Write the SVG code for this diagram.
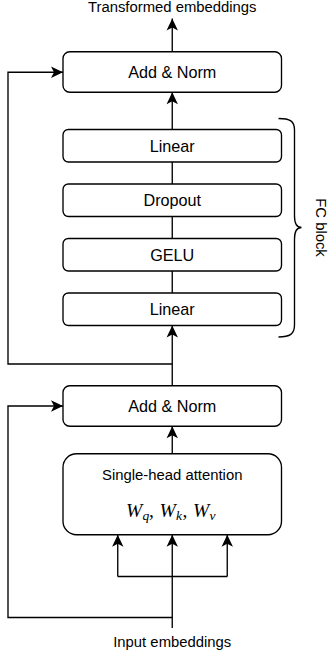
<svg xmlns="http://www.w3.org/2000/svg" width="329" height="655" viewBox="0 0 329 655">
  <style>
    .box { fill: #ffffff; stroke: #000000; stroke-width: 1.35; }
    .lbl { font-family: "Liberation Sans", Arial, Helvetica, sans-serif; font-size: 16.2px; fill: #000000; text-anchor: middle; }
    .cap { font-family: "Liberation Sans", Arial, Helvetica, sans-serif; font-size: 14.85px; fill: #000000; text-anchor: middle; }
    .math { font-family: "Liberation Serif", "Times New Roman", serif; font-size: 19.5px; font-style: italic; fill: #000000; }
    .sub { font-size: 13.5px; }
    .up { font-style: normal; }
    .wire { fill: none; stroke: #000000; stroke-width: 1.35; }
    .arr { marker-end: url(#head); }
  </style>
  <defs>
    <marker id="head" markerUnits="userSpaceOnUse" viewBox="-13 -7 14 14" markerWidth="14" markerHeight="14" refX="0" refY="0" orient="auto">
      <path d="M0,0 L-12,-5.7 L-9,0 L-12,5.7 Z" fill="#000000"/>
    </marker>
  </defs>

  <!-- outer labels -->
  <text class="cap" x="172.25" y="12">Transformed embeddings</text>
  <text class="cap" x="172.25" y="647">Input embeddings</text>

  <!-- connectors -->
  <g id="connectors">
    <path class="wire arr" d="M172.25,51.75 V18.5"/>
    <path class="wire arr" d="M172.25,129.5 V92.25"/>
    <path class="wire" d="M172.25,162 V184"/>
    <path class="wire" d="M172.25,216.5 V238.5"/>
    <path class="wire" d="M172.25,271 V293"/>
    <path class="wire arr" d="M172.25,385.75 V325.5"/>
    <path class="wire arr" d="M172.25,364 H8 V72.25 H63"/>
    <path class="wire arr" d="M172.25,453.75 V426.25"/>
    <path class="wire arr" d="M172.25,628 V534.75"/>
    <path class="wire" d="M117.75,576.5 H227.25"/>
    <path class="wire arr" d="M117.75,576.5 V534.75"/>
    <path class="wire arr" d="M227.25,576.5 V534.75"/>
    <path class="wire arr" d="M172.25,617.5 H8 V406 H63"/>
  </g>

  <!-- post-FC residual norm -->
  <g id="add-norm-2">
    <rect class="box" x="63" y="51.75" width="218.5" height="40.5" rx="6.75"/>
    <text class="lbl" x="172.25" y="77.7">Add &amp; Norm</text>
  </g>

  <!-- FC block layers -->
  <g id="linear-2">
    <rect class="box" x="63" y="129.5" width="218.5" height="32.5" rx="5.4"/>
    <text class="lbl" x="172.25" y="151.5">Linear</text>
  </g>
  <g id="dropout">
    <rect class="box" x="63" y="184" width="218.5" height="32.5" rx="5.4"/>
    <text class="lbl" x="172.25" y="206">Dropout</text>
  </g>
  <g id="gelu">
    <rect class="box" x="63" y="238.5" width="218.5" height="32.5" rx="5.4"/>
    <text class="lbl" x="172.25" y="260.5">GELU</text>
  </g>
  <g id="linear-1">
    <rect class="box" x="63" y="293" width="218.5" height="32.5" rx="5.4"/>
    <text class="lbl" x="172.25" y="315">Linear</text>
  </g>

  <!-- brace around FC block -->
  <g id="fc-block">
    <path class="wire" d="M278.5,118.5 C290,118.5 294.5,121 294.5,130 V216 C294.5,223 296,227.5 301.5,227.5 C296,227.5 294.5,232 294.5,239 V325 C294.5,334 290,337 278.5,337"/>
    <text class="cap" transform="translate(315.5,227.5) rotate(90)" x="0" y="0">FC block</text>
  </g>

  <!-- post-attention residual norm -->
  <g id="add-norm-1">
    <rect class="box" x="63" y="385.75" width="218.5" height="40.5" rx="6.75"/>
    <text class="lbl" x="172.25" y="411.7">Add &amp; Norm</text>
  </g>

  <!-- attention -->
  <g id="attention">
    <rect class="box" x="63" y="453.75" width="218.5" height="81" rx="13.5"/>
    <text class="cap" x="172.25" y="480">Single-head attention</text>
    <text class="math" y="517"><tspan x="126">W</tspan><tspan class="sub" x="142.5" dy="3">q</tspan><tspan class="up" x="149" dy="-3">,</tspan><tspan x="159.5">W</tspan><tspan class="sub" x="176" dy="3">k</tspan><tspan class="up" x="182.5" dy="-3">,</tspan><tspan x="193">W</tspan><tspan class="sub" x="209.5" dy="3">v</tspan></text>
  </g>
</svg>
